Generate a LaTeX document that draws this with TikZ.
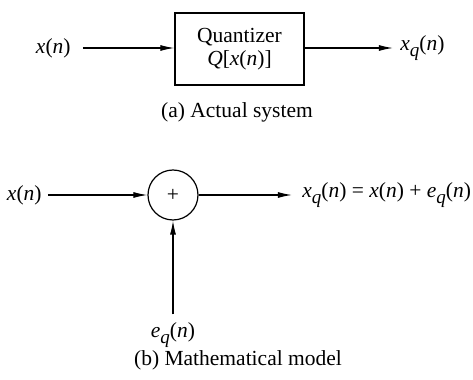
\documentclass[tikz,border=0pt]{standalone}
\usepackage{fontspec}
\setmainfont{Liberation Serif}
\newfontfamily\tms{Liberation Serif}
\usetikzlibrary{arrows.meta}
\newcommand\qsb{\raisebox{-0.55ex}{\fontsize{9.5}{10}\selectfont\itshape q}}
\begin{document}
\begin{tikzpicture}[x=0.5pt,y=-0.5pt,
  lbl/.style={inner sep=0pt, font=\tms\fontsize{10.75}{12}\selectfont},
  sig/.style={line width=0.6pt, -{Latex[length=7pt,width=3pt]}},
  blockbox/.style={draw, line width=0.6pt, minimum width=64.5pt, minimum height=36pt, align=center, inner sep=0pt, font=\tms\fontsize{10.75}{11.8}\selectfont},
  sumnode/.style={draw, circle, line width=0.6pt, minimum size=25pt, inner sep=0pt, font=\tms\fontsize{10.75}{12}\selectfont}]
\useasboundingbox (0,0) rectangle (473,380);
% (a) actual system
\node[lbl, anchor=east] (x1) at (71,48) {\textit{x}(\textit{n})};
\node[blockbox] (q) at (239.5,49) {Quantizer\\\textit{Q}[\textit{x}(\textit{n})]};
\node[lbl, anchor=west] (y1) at (400,48) {\textit{x}\qsb(\textit{n})};
\draw[sig] ([xshift=6pt]x1.east) -- (q.west |- x1.east);
\draw[sig] (q.east |- y1.west) -- ([xshift=-3.5pt]y1.west);
\node[lbl] (capa) at (237,112) {(a) Actual system};
% (b) mathematical model
\node[lbl, anchor=east] (x2) at (42,195) {\textit{x}(\textit{n})};
\node[sumnode] (s) at (173,195) {+};
\node[lbl, anchor=west] (y2) at (302,195) {\textit{x}\qsb(\textit{n}) = \textit{x}(\textit{n}) + \textit{e}\qsb(\textit{n})};
\node[lbl] (e) at (173,335) {\textit{e}\qsb(\textit{n})};
\draw[sig] ([xshift=3pt]x2.east) -- (s.west);
\draw[sig] (s.east) -- ([xshift=-5pt]y2.west);
\draw[sig] ([yshift=4pt]e.north) -- (s.south);
\node[lbl] (capb) at (238,360) {(b) Mathematical model};
\end{tikzpicture}
\end{document}
